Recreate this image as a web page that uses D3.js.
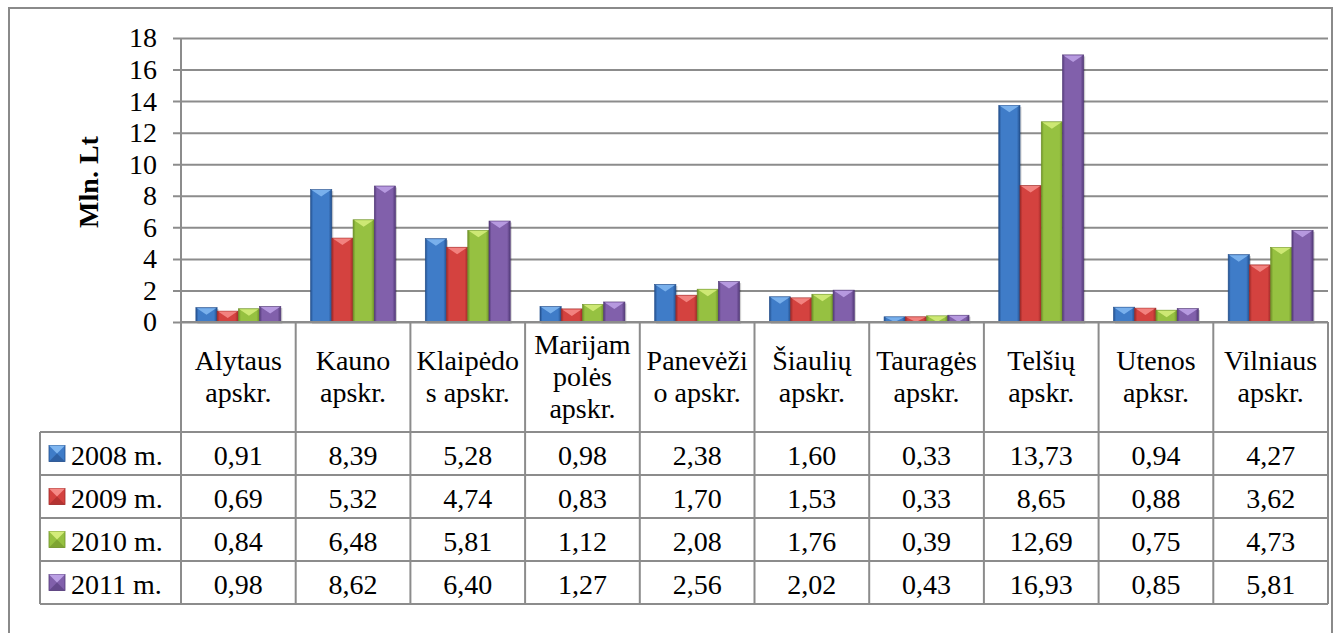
<!DOCTYPE html>
<html>
<head>
<meta charset="utf-8">
<script src="https://cdn.jsdelivr.net/npm/d3@7"></script>
<style>
  html, body { margin: 0; padding: 0; background: #fff; overflow: hidden; }
  svg text, svg tspan { font-family: "Liberation Serif", "Times New Roman", serif !important; }
</style>
</head>
<body>
<script>
// data
const categories = ["Alytaus", "Kauno", "Klaipedos", "Marijampoles", "Panevezio", "Siauliu", "Taurages", "Telsiu", "Utenos", "Vilniaus"];
const categoryLabels = [
  ["Alytaus", "apskr."],
  ["Kauno", "apskr."],
  ["Klaipėdo", "s apskr."],
  ["Marijam", "polės", "apskr."],
  ["Panevėži", "o apskr."],
  ["Šiaulių", "apskr."],
  ["Tauragės", "apskr."],
  ["Telšių", "apskr."],
  ["Utenos", "apksr."],
  ["Vilniaus", "apskr."]
];
const seriesNames = ["2008 m.", "2009 m.", "2010 m.", "2011 m."];
const values2008 = [0.91, 8.39, 5.28, 0.98, 2.38, 1.60, 0.33, 13.73, 0.94, 4.27];
const values2009 = [0.69, 5.32, 4.74, 0.83, 1.70, 1.53, 0.33, 8.65, 0.88, 3.62];
const values2010 = [0.84, 6.48, 5.81, 1.12, 2.08, 1.76, 0.39, 12.69, 0.75, 4.73];
const values2011 = [0.98, 8.62, 6.40, 1.27, 2.56, 2.02, 0.43, 16.93, 0.85, 5.81];
const yTicks = [0, 2, 4, 6, 8, 10, 12, 14, 16, 18];

const seriesValues = [values2008, values2009, values2010, values2011];
// colours: [edge, middle, bevel]
const palette = [
  ["#234f8c", "#3f7cc8", "#7fb6f0"],
  ["#9e2a28", "#d4423f", "#f58a86"],
  ["#6e9128", "#96c141", "#d3ec7a"],
  ["#533a78", "#8160ab", "#bba0e4"]
];

const W = 1339, H = 633;
const m = {left: 181, right: 11, top: 38};
const zeroY = 322;
const headerBottom = 432, rowH = 43;
const fontSize = 28;

const svg = d3.select("body").append("svg")
  .attr("width", W).attr("height", H)
  .attr("font-family", "Liberation Serif");

const defs = svg.append("defs");
palette.forEach((c, i) => {
  const g = defs.append("linearGradient").attr("id", "bar" + i)
    .attr("x1", 0).attr("x2", 1).attr("y1", 0).attr("y2", 0);
  g.append("stop").attr("offset", "0%").attr("stop-color", c[0]);
  g.append("stop").attr("offset", "12%").attr("stop-color", c[1]);
  g.append("stop").attr("offset", "50%").attr("stop-color", c[1]);
  g.append("stop").attr("offset", "85%").attr("stop-color", c[1]);
  g.append("stop").attr("offset", "100%").attr("stop-color", c[0]);
});

// outer frame
svg.append("rect")
  .attr("x", 9).attr("y", 8).attr("width", 1323).attr("height", 700)
  .attr("fill", "#fff").attr("stroke", "#8a8a8a").attr("stroke-width", 2);

const x = d3.scaleBand().domain(categories).range([m.left, W - m.right]).padding(0);
const xs = d3.scaleBand().domain(seriesNames).range([0, x.bandwidth()])
  .paddingInner(0).paddingOuter(0.7);
const y = d3.scaleLinear().domain([0, 18]).range([zeroY, m.top]);

// gridlines + tick labels
const yAxis = d3.axisLeft(y).tickValues(yTicks)
  .tickSizeInner(-(W - m.right - m.left + 8)).tickSizeOuter(0).tickPadding(16);
const ga = svg.append("g").attr("transform", `translate(${m.left - 8},0)`).call(yAxis);
ga.select(".domain").remove();
ga.attr("font-family", "Liberation Serif").attr("font-size", fontSize);
ga.selectAll(".tick line").attr("stroke", "#8c8c8c").attr("stroke-width", 2);
ga.selectAll(".tick text").attr("fill", "#000");

svg.append("line")
  .attr("x1", m.left).attr("x2", m.left).attr("y1", m.top).attr("y2", zeroY)
  .attr("stroke", "#8c8c8c").attr("stroke-width", 2);

svg.append("text")
  .attr("transform", `translate(98,${(m.top + zeroY) / 2 + 2}) rotate(-90)`)
  .attr("text-anchor", "middle")
  .attr("font-size", fontSize).attr("font-weight", "bold")
  .text("Mln. Lt");

// bars, with a soft shadow drawn under each one
const bw = xs.bandwidth();
seriesNames.forEach((s, si) => {
  const data = categories.map((c, ci) => ({c: c, v: seriesValues[si][ci]}));
  const bar = svg.append("g").selectAll("g").data(data).enter().append("g")
    .attr("transform", d => `translate(${x(d.c) + xs(s)},${y(d.v)})`);
  bar.append("rect")
    .attr("x", 1.5).attr("y", 1.5)
    .attr("width", bw).attr("height", d => zeroY - y(d.v))
    .attr("fill", "#000").attr("opacity", 0.18);
  bar.append("rect")
    .attr("width", bw).attr("height", d => zeroY - y(d.v))
    .attr("fill", `url(#bar${si})`)
    .attr("stroke", palette[si][0]).attr("stroke-width", 0.6);
  bar.append("path")
    .attr("d", d => {
      const h = Math.min(7, zeroY - y(d.v));
      return `M1,0.5 L${bw - 1},0.5 L${bw / 2},${h} Z`;
    })
    .attr("fill", palette[si][2]).attr("opacity", 0.9);
});

// data table
const rowY = d3.scaleBand().domain(seriesNames)
  .range([headerBottom, headerBottom + rowH * seriesNames.length]);
const tableBottom = headerBottom + rowH * seriesNames.length;
const tableLeft = 40;
const grid = svg.append("g").attr("stroke", "#8c8c8c").attr("stroke-width", 2);

// vertical lines
grid.selectAll(".v").data(categories).enter().append("line")
  .attr("x1", d => x(d) + x.bandwidth()).attr("x2", d => x(d) + x.bandwidth())
  .attr("y1", zeroY).attr("y2", tableBottom);
grid.append("line").attr("x1", m.left).attr("x2", m.left)
  .attr("y1", zeroY).attr("y2", tableBottom);
grid.append("line").attr("x1", tableLeft).attr("x2", tableLeft)
  .attr("y1", headerBottom).attr("y2", tableBottom);
// horizontal lines
grid.append("line").attr("x1", m.left).attr("x2", W - m.right)
  .attr("y1", zeroY).attr("y2", zeroY);
grid.selectAll(".h").data(seriesNames).enter().append("line")
  .attr("x1", tableLeft).attr("x2", W - m.right)
  .attr("y1", d => rowY(d)).attr("y2", d => rowY(d));
grid.append("line").attr("x1", tableLeft).attr("x2", W - m.right)
  .attr("y1", tableBottom).attr("y2", tableBottom);

// header labels
const headerMid = 386, lineH = 32;
categories.forEach((c, ci) => {
  const lines = categoryLabels[ci];
  const t = svg.append("text").attr("text-anchor", "middle").attr("font-size", fontSize);
  lines.forEach((ln, li) => {
    t.append("tspan")
      .attr("x", x(c) + x.bandwidth() / 2)
      .attr("y", headerMid + (li - (lines.length - 1) / 2) * lineH)
      .text(ln);
  });
});

// rows
const fmt = v => v.toFixed(2).replace(".", ",");
seriesNames.forEach((s, si) => {
  const ry = rowY(s);
  const key = svg.append("g")
    .attr("transform", `translate(49,${ry + rowY.bandwidth() / 2 - 8})`);
  key.append("rect").attr("width", 16).attr("height", 16)
    .attr("fill", palette[si][1]).attr("stroke", palette[si][0]).attr("stroke-width", 0.8);
  key.append("path").attr("d", "M0,0 L16,0 L8,8 Z").attr("fill", palette[si][2]);
  key.append("path").attr("d", "M0,16 L16,16 L8,8 Z").attr("fill", palette[si][0]).attr("opacity", 0.6);

  svg.append("text")
    .attr("x", 71).attr("y", ry + 33)
    .attr("font-size", fontSize)
    .text(s);

  svg.append("g").selectAll("text")
    .data(categories.map((c, ci) => ({c: c, v: seriesValues[si][ci]})))
    .enter().append("text")
    .attr("x", d => x(d.c) + x.bandwidth() / 2)
    .attr("y", ry + 33)
    .attr("text-anchor", "middle")
    .attr("font-size", fontSize)
    .text(d => fmt(d.v));
});

svg.selectAll("text, tspan")
  .style("font-family", "\"Liberation Serif\", serif", "important")
  .attr("fill", "#000");
</script>
</body>
</html>
